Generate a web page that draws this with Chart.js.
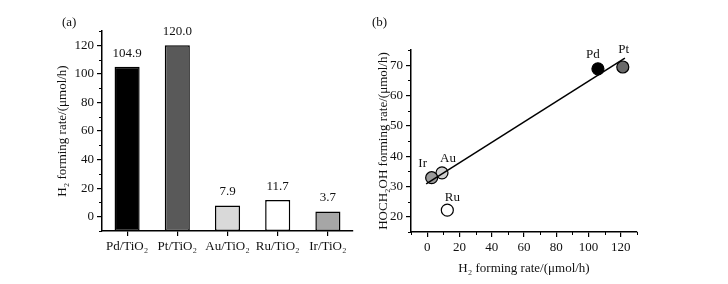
<!DOCTYPE html>
<html>
<head>
<meta charset="utf-8">
<script src="https://cdn.jsdelivr.net/npm/chart.js@4"></script>
<style>
  body { margin: 0; background: #fff; }
  #wrap { position: relative; width: 728px; height: 284px; }
  canvas { position: absolute; top: 0; }
  .tag { position: absolute; font: 13px 'Liberation Serif'; color: #111; }
</style>
</head>
<body>
<div id="wrap">
  <canvas id="chartA" width="364" height="284" style="left:0"></canvas>
  <canvas id="chartB" width="364" height="284" style="left:364px"></canvas>
  <div class="tag" style="left:62px;top:14px">(a)</div>
  <div class="tag" style="left:372px;top:14px">(b)</div>
</div>
<script>
// panel (a): H2 forming rate per catalyst
const catalysts = ['Pd/TiO₂', 'Pt/TiO₂', 'Au/TiO₂', 'Ru/TiO₂', 'Ir/TiO₂'];
const h2Rates = [104.9, 120.0, 7.9, 11.7, 3.7];
const barFill = ['#000000', '#595959', '#d9d9d9', '#ffffff', '#a6a6a6'];
const rateTicksA = [0, 20, 40, 60, 80, 100, 120];

// panel (b): HOCH2OH vs H2 forming rate
const metals = ['Pd', 'Pt', 'Au', 'Ru', 'Ir'];
const h2X = [105.8, 121.2, 9.2, 12.5, 2.8];
const methanolY = [68.8, 69.4, 34.5, 22.2, 32.9];
const pointFill = ['#000000', '#6a6a6a', '#cfcfcf', '#ffffff', '#9a9a9a'];
const fitX = [-0.6, 122.5];
const fitY = [30.9, 72.3];
const h2TicksB = [0, 20, 40, 60, 80, 100, 120];
const methanolTicksB = [20, 30, 40, 50, 60, 70];

Chart.defaults.font.family = "'Liberation Serif', serif";
Chart.defaults.font.size = 13;
Chart.defaults.color = '#111';

// short unlabelled ticks between the major ones
const minorTicks = {
    id: 'minorTicks',
    afterDraw(chart, args, opts) {
        const ctx = chart.ctx;
        ctx.save();
        ctx.strokeStyle = '#000';
        ctx.lineWidth = 1;
        Object.keys(opts).forEach(id => {
            const scale = chart.scales[id];
            const step = opts[id];
            if (!scale || typeof step !== 'number') return;
            for (let v = Math.ceil(scale.min / step) * step; v <= scale.max + 1e-9; v += step) {
                if (scale.ticks.some(t => Math.abs(t.value - v) < 1e-6)) continue;
                const p = Math.round(scale.getPixelForValue(v)) + 0.5;
                ctx.beginPath();
                if (scale.isHorizontal()) {
                    ctx.moveTo(p, scale.top);
                    ctx.lineTo(p, scale.top + 3);
                } else {
                    ctx.moveTo(scale.right, p);
                    ctx.lineTo(scale.right - 3, p);
                }
                ctx.stroke();
            }
        });
        ctx.restore();
    },
};

const barValues = {
    id: 'barValues',
    afterDatasetsDraw(chart) {
        const ctx = chart.ctx;
        ctx.save();
        ctx.fillStyle = '#111';
        ctx.font = "13px 'Liberation Serif'";
        ctx.textAlign = 'center';
        ctx.textBaseline = 'bottom';
        chart.getDatasetMeta(0).data.forEach((bar, i) => {
            ctx.fillText(h2Rates[i].toFixed(1), bar.x, bar.y - 7);
        });
        ctx.restore();
    },
};

const pointNames = {
    id: 'pointNames',
    afterDraw(chart) {
        const offsets = [[-5, -14], [1, -17], [6, -14], [5, -13], [-9, -14]];
        const ctx = chart.ctx;
        ctx.save();
        ctx.fillStyle = '#111';
        ctx.font = "13px 'Liberation Serif'";
        ctx.textAlign = 'center';
        ctx.textBaseline = 'middle';
        chart.getDatasetMeta(1).data.forEach((pt, i) => {
            ctx.fillText(metals[i], pt.x + offsets[i][0], pt.y + offsets[i][1]);
        });
        ctx.restore();
    },
};

const fixedTicks = values => s => { s.ticks = values.map(v => ({ value: v })); };
const axisGrid = { drawOnChartArea: false, tickLength: 5, color: '#000', lineWidth: 1.2 };
const axisBorder = { color: '#000', width: 1.5 };

new Chart(document.getElementById('chartA'), {
    type: 'bar',
    data: {
        labels: catalysts,
        datasets: [
            {
                data: h2Rates,
                base: -10,
                backgroundColor: barFill,
                borderColor: '#000',
                borderWidth: 1.5,
                borderSkipped: false,
                barPercentage: 0.5,
                categoryPercentage: 1,
            },
        ],
    },
    options: {
        responsive: false,
        animation: false,
        layout: { padding: { left: 55, top: 31, right: 11, bottom: 0 } },
        plugins: {
            legend: { display: false },
            tooltip: { enabled: false },
            minorTicks: { y: 10 },
        },
        scales: {
            x: {
                grid: { ...axisGrid, offset: false },
                border: axisBorder,
                ticks: { padding: 3, maxRotation: 0, autoSkip: false },
                afterFit: s => { s.height = 53; },
            },
            y: {
                min: -10,
                max: 130,
                grid: axisGrid,
                border: axisBorder,
                ticks: { padding: 3, autoSkip: false },
                afterBuildTicks: fixedTicks(rateTicksA),
                title: { display: true, text: 'H₂ forming rate/(μmol/h)', padding: 0 },
                afterFit: s => { s.width = 47; },
            },
        },
    },
    plugins: [minorTicks, barValues],
});

new Chart(document.getElementById('chartB'), {
    type: 'scatter',
    data: {
        datasets: [
            {
                data: fitX.map((x, i) => ({ x, y: fitY[i] })),
                showLine: true,
                borderColor: '#000',
                borderWidth: 1.5,
                pointRadius: 0,
                order: 0,
            },
            {
                data: h2X.map((x, i) => ({ x, y: methanolY[i] })),
                backgroundColor: pointFill,
                borderColor: '#000',
                borderWidth: 1.2,
                pointRadius: 6,
                order: 1,
            },
        ],
    },
    options: {
        responsive: false,
        animation: false,
        layout: { padding: { left: 12, top: 50, right: 91, bottom: 8 } },
        plugins: {
            legend: { display: false },
            tooltip: { enabled: false },
            minorTicks: { x: 10, y: 5 },
        },
        scales: {
            x: {
                type: 'linear',
                min: -10,
                max: 130,
                grid: axisGrid,
                border: axisBorder,
                ticks: { padding: 3, autoSkip: false },
                afterBuildTicks: fixedTicks(h2TicksB),
                title: { display: true, text: 'H₂ forming rate/(μmol/h)', padding: 0 },
                afterFit: s => { s.height = 44; },
            },
            y: {
                min: 15,
                max: 75,
                grid: axisGrid,
                border: axisBorder,
                ticks: { padding: 3, autoSkip: false },
                afterBuildTicks: fixedTicks(methanolTicksB),
                title: { display: true, text: 'HOCH₂OH forming rate/(μmol/h)', padding: 0 },
                afterFit: s => { s.width = 35; },
            },
        },
    },
    plugins: [minorTicks, pointNames],
});
</script>
</body>
</html>
